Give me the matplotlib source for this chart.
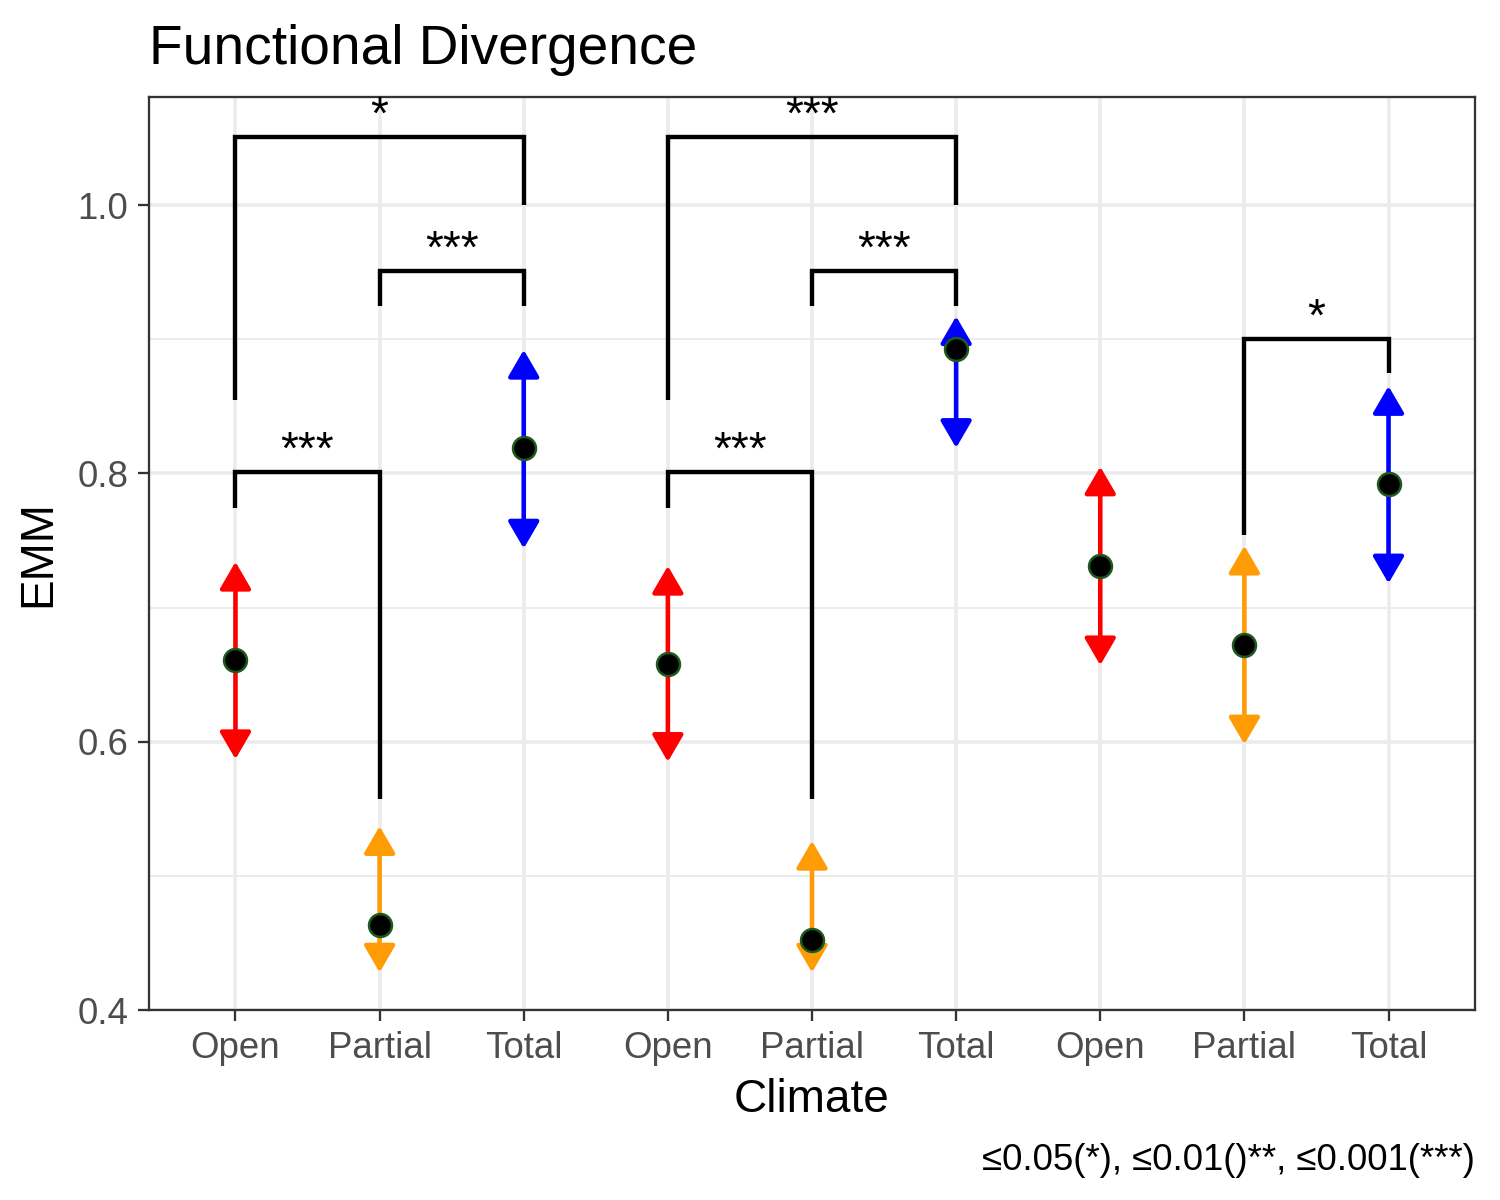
import numpy as np
import matplotlib.pyplot as plt

plt.rcParams['font.family'] = ['Liberation Sans', 'DejaVu Sans']

# data
labels = ['Open', 'Partial', 'Total'] * 3
emm = [0.661, 0.4635, 0.819, 0.658, 0.452, 0.893, 0.731, 0.672, 0.792]
upper = [0.734, 0.537, 0.892, 0.731, 0.526, 0.917, 0.805, 0.746, 0.865]
lower = [0.587, 0.428, 0.744, 0.585, 0.428, 0.819, 0.657, 0.598, 0.718]
colors = ['#FF0000', '#FF9B05', '#0000FF'] * 3

# significance brackets: (x1, x2, bar y, left leg end, right leg end, label)
br_x1 = [1, 2, 1, 4, 5, 4, 8]
br_x2 = [3, 3, 2, 6, 6, 5, 9]
br_y = [1.051, 0.951, 0.801, 1.051, 0.951, 0.801, 0.900]
br_left = [0.855, 0.925, 0.774, 0.855, 0.925, 0.774, 0.754]
br_right = [1.000, 0.925, 0.557, 1.000, 0.925, 0.557, 0.875]
br_lab = ['*', '***', '***', '***', '***', '***', '*']

fig = plt.figure(figsize=(5, 4), dpi=300)
ax = fig.add_axes([149/1500, 1 - 1010/1200, (1475-149)/1500, (1010-97)/1200])

x = np.arange(1, len(emm) + 1)

# grid like theme_bw
for yv in [0.5, 0.7, 0.9]:
    ax.axhline(yv, color='#EBEBEB', lw=0.45, zorder=0)
for yv in [0.4, 0.6, 0.8, 1.0]:
    ax.axhline(yv, color='#EBEBEB', lw=0.85, zorder=0)
for xv in x:
    ax.axvline(xv, color='#EBEBEB', lw=0.85, zorder=0)

# error arrows
for xi, lo, hi, c in zip(x, lower, upper, colors):
    ax.annotate('', xy=(xi, hi), xytext=(xi, lo),
                arrowprops=dict(arrowstyle='<|-|>,head_length=0.55,head_width=0.32',
                                color=c, lw=1.1, shrinkA=0, shrinkB=0,
                                mutation_scale=10), zorder=2)

ax.plot(x, emm, 'o', ms=5.5, mfc='black', mec='#1E5A1E', mew=0.6, zorder=4)

# brackets
for x1, x2, yb, yl, yr, lab in zip(br_x1, br_x2, br_y, br_left, br_right, br_lab):
    ax.plot([x1, x1, x2, x2], [yl, yb, yb, yr], color='black', lw=1.05,
            solid_capstyle='butt', solid_joinstyle='miter', zorder=3)
    ax.annotate(lab, xy=((x1 + x2) / 2, yb), xytext=(0, 2.0),
                textcoords='offset points', ha='center', va='baseline',
                fontsize=11, color='black', annotation_clip=False,
                clip_on=True, zorder=5)

ax.set_xlim(0.4, 9.6)
ax.set_ylim(0.4, 1.0805)
ax.set_xticks(x)
ax.set_xticklabels(labels)
ax.set_yticks([0.4, 0.6, 0.8, 1.0])
ax.set_yticklabels(['0.4', '0.6', '0.8', '1.0'])
ax.tick_params(axis='both', length=2.75, width=0.55, color='#333333',
               labelsize=8.8, labelcolor='#4D4D4D', pad=2.2)
for s in ax.spines.values():
    s.set_color('#333333')
    s.set_linewidth(0.55)

ax.set_xlabel('Climate', fontsize=11, labelpad=3)
ax.set_ylabel('EMM', fontsize=11, labelpad=4)
ax.set_title('Functional Divergence', fontsize=13.2, loc='left', pad=8)
fig.text(1475/1500, 1 - 1160/1200, '≤0.05(*), ≤0.01()**, ≤0.001(***)',
         ha='right', va='center', fontsize=8.8, color='black')

fig.savefig('out.png', dpi=300)
